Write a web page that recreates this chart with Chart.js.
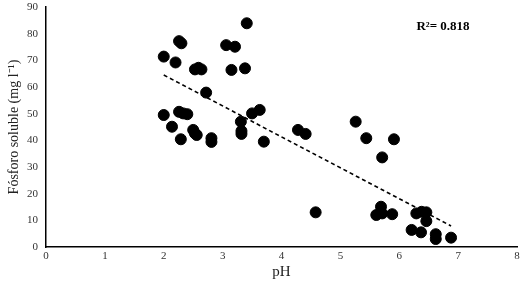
<!DOCTYPE html>
<html lang="es">
<head>
  <meta charset="UTF-8" />
  <title>Fósforo soluble vs pH</title>
  <script src="https://cdn.jsdelivr.net/npm/chart.js"></script>
  <style>
    html, body { margin: 0; padding: 0; background: #fff; }
    #wrap { width: 521px; height: 281px; }
  </style>
</head>
<body>
  <div id="wrap"><canvas id="scatterChart" width="521" height="281"></canvas></div>

  <script>
    // pH readings and soluble phosphorus (mg l-1)
    const phValues = [
      2.00, 2.00, 2.14, 2.20, 2.26, 2.30, 2.26, 2.33, 2.40, 2.29,
      2.50, 2.53, 2.56, 2.53, 2.59, 2.64, 2.72, 2.81, 2.81, 3.06,
      3.21, 3.15, 3.38, 3.41, 3.31, 3.32, 3.32, 3.50, 3.63, 3.70,
      4.28, 4.41, 4.58, 5.26, 5.44, 5.71, 5.91, 5.69, 5.61, 5.71,
      5.88, 6.29, 6.38, 6.46, 6.46, 6.21, 6.37, 6.62, 6.62, 6.88
    ];
    const phosphorus = [
      71.4, 49.5, 45.1, 69.2, 77.2, 76.4, 50.7, 50.1, 49.8, 40.4,
      43.9, 42.6, 42.0, 66.6, 67.2, 66.6, 57.9, 40.8, 39.4, 75.7,
      75.1, 66.4, 67.0, 83.9, 47.0, 43.5, 42.4, 50.1, 51.4, 39.5,
      43.9, 42.4, 13.0, 47.0, 40.8, 33.6, 40.4, 15.1, 12.0, 12.6,
      12.3, 12.6, 13.2, 13.0, 9.7, 6.4, 5.5, 4.8, 3.0, 3.5
    ];

    // linear trend line end points
    const trendX = [2.0, 6.88];
    const trendY = [64.5, 7.9];

    const xTicks = [0, 1, 2, 3, 4, 5, 6, 7, 8];
    const yTicks = [0, 10, 20, 30, 40, 50, 60, 70, 80, 90];
    const r2Label = 'R²= 0.818';

    const serif = "'Liberation Serif', 'Times New Roman', serif";

    const points = phValues.map((x, i) => ({ x: x, y: phosphorus[i] }));
    const trend = trendX.map((x, i) => ({ x: x, y: trendY[i] }));

    const r2Plugin = {
      id: 'r2Plugin',
      afterDraw(chart) {
        const ctx = chart.ctx;
        ctx.save();
        ctx.font = "bold 13px " + serif;
        ctx.fillStyle = '#000';
        ctx.textAlign = 'center';
        ctx.textBaseline = 'middle';
        ctx.fillText(r2Label, 443, 27);
        ctx.restore();
      }
    };

    new Chart(document.getElementById('scatterChart'), {
      type: 'scatter',
      data: {
        datasets: [
          {
            label: 'Fósforo soluble',
            data: points,
            backgroundColor: '#000',
            borderColor: '#000',
            pointRadius: 5.5,
            pointHoverRadius: 5.5,
            order: 2
          },
          {
            label: 'Tendencia',
            type: 'line',
            data: trend,
            borderColor: '#000',
            borderWidth: 1.6,
            borderDash: [4, 3],
            pointRadius: 0,
            fill: false,
            order: 1
          }
        ]
      },
      options: {
        responsive: false,
        animation: false,
        layout: { autoPadding: false, padding: { top: 7, right: 4, left: 6, bottom: 0 } },
        plugins: {
          legend: { display: false },
          tooltip: { enabled: false }
        },
        scales: {
          x: {
            type: 'linear',
            min: 0,
            max: 8,
            afterBuildTicks(axis) { axis.ticks = xTicks.map(v => ({ value: v })); },
            afterFit(axis) {
              axis.height = 34;
              axis.paddingLeft = 0;
              axis.paddingRight = 0;
            },
            grid: { display: false, drawTicks: false },
            border: { display: true, color: '#000', width: 1.5 },
            ticks: { color: '#333', font: { family: serif, size: 11 }, padding: 3 },
            title: {
              display: true,
              text: 'pH',
              color: '#222',
              font: { family: serif, size: 15 },
              padding: { top: 0, bottom: 0 }
            }
          },
          y: {
            type: 'linear',
            min: 0,
            max: 90,
            afterBuildTicks(axis) { axis.ticks = yTicks.map(v => ({ value: v })); },
            afterFit(axis) {
              axis.width = 40;
              axis.paddingTop = 0;
              axis.paddingBottom = 0;
            },
            grid: { display: false, drawTicks: false },
            border: { display: true, color: '#000', width: 1.5 },
            ticks: { color: '#333', font: { family: serif, size: 11 }, padding: 8 },
            title: {
              display: true,
              text: 'Fósforo soluble (mg l⁻¹)',
              color: '#222',
              font: { family: serif, size: 14 },
              padding: { top: 0, bottom: 0 }
            }
          }
        }
      },
      plugins: [r2Plugin]
    });
  </script>
</body>
</html>
